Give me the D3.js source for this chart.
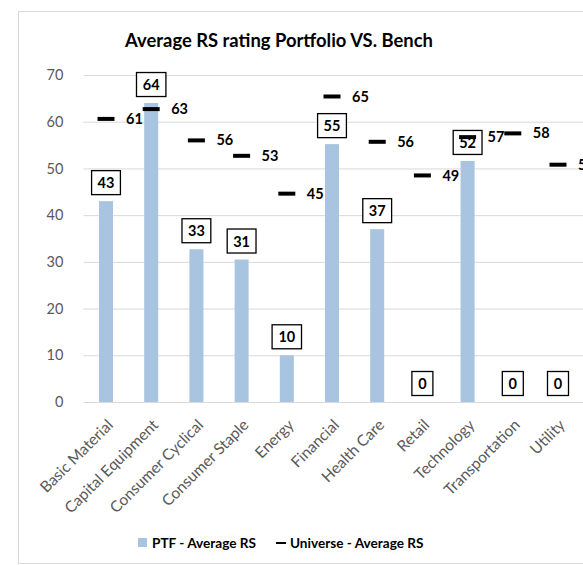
<!DOCTYPE html>
<html>
<head>
<meta charset="utf-8">
<script src="https://cdn.jsdelivr.net/npm/d3@7"></script>
<style>
  body { margin: 0; background: #fff; }
  svg { font-family: Lato, "Open Sans", sans-serif; }
</style>
</head>
<body>
<div id="chart"></div>
<script>
// chart data
var sectors    = ['Basic Material', 'Capital Equipment', 'Consumer Cyclical', 'Consumer Staple',
                  'Energy', 'Financial', 'Health Care', 'Retail', 'Technology', 'Transportation', 'Utility'],
    ptfRS      = [43, 64, 32.7, 30.5, 10, 55.2, 37, 0, 51.6, 0, 0],
    universeRS = [60.6, 62.7, 56, 52.7, 44.6, 65.4, 55.7, 48.5, 56.7, 57.5, 50.8],
    yTicks     = [0, 10, 20, 30, 40, 50, 60, 70];

var width      = 583,
    height     = 565,
    plotLeft   = 83.4,
    plotRight  = 580.6,
    plotTop    = 75,
    plotBottom = 402,
    barCol     = '#A9C4E0',
    gridCol    = '#d9d9d9',
    textCol    = '#595959',
    fontStack  = 'Lato, "Open Sans", sans-serif';

var svg = d3.select('#chart')
	.append('svg')
	.attr('width', width)
	.attr('height', height);

// chart frame (cropped on the right in the original)
svg.append('rect')
	.attr('x', 18.5)
	.attr('y', 11.5)
	.attr('width', 600)
	.attr('height', 552)
	.attr('fill', '#fff')
	.attr('stroke', gridCol);

var x = d3.scaleBand()
	.domain(sectors)
	.range([plotLeft, plotRight])
	.paddingInner(0.69)
	.paddingOuter(0.345);

var y = d3.scaleLinear()
	.domain([0, 70])
	.range([plotBottom, plotTop]);

// title
svg.append('text')
	.attr('x', 279)
	.attr('y', 47)
	.attr('text-anchor', 'middle')
	.attr('font-size', 18.4)
	.attr('font-weight', 'bold')
	.attr('fill', '#000')
	.text('Average RS rating Portfolio VS. Bench');

// y axis with gridlines
var yAxis = svg.append('g')
	.attr('transform', 'translate(' + plotLeft + ',0)')
	.call(d3.axisLeft(y).tickValues(yTicks).tickSize(-(width - plotLeft)).tickPadding(20));

yAxis.select('.domain').remove();
yAxis.selectAll('line').attr('stroke', gridCol).attr('stroke-width', 1);
yAxis.selectAll('text')
	.attr('fill', textCol)
	.attr('font-size', 14.5)
	.attr('font-family', fontStack);

// x axis labels, rotated
var xAxis = svg.append('g')
	.attr('transform', 'translate(0,' + plotBottom + ')')
	.call(d3.axisBottom(x).tickSize(0).tickPadding(0));

xAxis.select('.domain').attr('stroke', gridCol);
xAxis.selectAll('text')
	.attr('fill', textCol)
	.attr('font-size', 15.5)
	.attr('font-family', fontStack)
	.attr('text-anchor', 'end')
	.attr('dy', 0)
	.attr('transform', 'translate(8,24) rotate(-45)');

// PTF bars
svg.append('g')
	.selectAll('rect')
	.data(ptfRS)
	.enter()
	.append('rect')
	.attr('x', function(d, i){ return x(sectors[i]); })
	.attr('y', function(d){ return y(d); })
	.attr('width', x.bandwidth())
	.attr('height', function(d){ return y(0) - y(d); })
	.attr('fill', barCol);

// boxed bar labels
var boxes = svg.append('g')
	.selectAll('g')
	.data(ptfRS)
	.enter()
	.append('g')
	.attr('transform', function(d, i){
		return 'translate(' + (x(sectors[i]) + x.bandwidth() / 2) + ',' + (y(d) - 6) + ')';
	});

boxes.append('text')
	.attr('text-anchor', 'middle')
	.attr('y', -7)
	.attr('font-size', 14.5)
	.attr('font-weight', 'bold')
	.attr('fill', '#000')
	.text(function(d){ return Math.round(d); });

boxes.each(function(){
	var g  = d3.select(this),
	    bb = g.select('text').node().getBBox(),
	    w  = bb.width + 12;
	g.insert('rect', 'text')
		.attr('x', -w / 2)
		.attr('y', -24.5)
		.attr('width', w)
		.attr('height', 24)
		.attr('fill', '#fff')
		.attr('stroke', '#000')
		.attr('stroke-width', 1.3);
});

// universe markers + labels
var marks = svg.append('g')
	.selectAll('g')
	.data(universeRS)
	.enter()
	.append('g')
	.attr('transform', function(d, i){
		return 'translate(' + (x(sectors[i]) + x.bandwidth() / 2) + ',' + y(d) + ')';
	});

marks.append('line')
	.attr('x1', -8.5)
	.attr('x2', 8.5)
	.attr('stroke', '#000')
	.attr('stroke-width', 4);

marks.append('text')
	.attr('x', 20)
	.attr('dy', '0.35em')
	.attr('font-size', 14.5)
	.attr('font-weight', 'bold')
	.attr('fill', '#000')
	.text(function(d){ return Math.round(d); });

// legend
var legend = svg.append('g')
	.attr('font-size', 13.6)
	.attr('font-weight', 'bold')
	.attr('fill', '#000');

legend.append('rect')
	.attr('x', 138)
	.attr('y', 538)
	.attr('width', 9)
	.attr('height', 9)
	.attr('fill', barCol);

legend.append('text')
	.attr('x', 152)
	.attr('y', 548)
	.text('PTF - Average RS');

legend.append('line')
	.attr('x1', 276)
	.attr('x2', 286)
	.attr('y1', 543)
	.attr('y2', 543)
	.attr('stroke', '#000')
	.attr('stroke-width', 2);

legend.append('text')
	.attr('x', 290)
	.attr('y', 548)
	.text('Universe - Average RS');
</script>
</body>
</html>
